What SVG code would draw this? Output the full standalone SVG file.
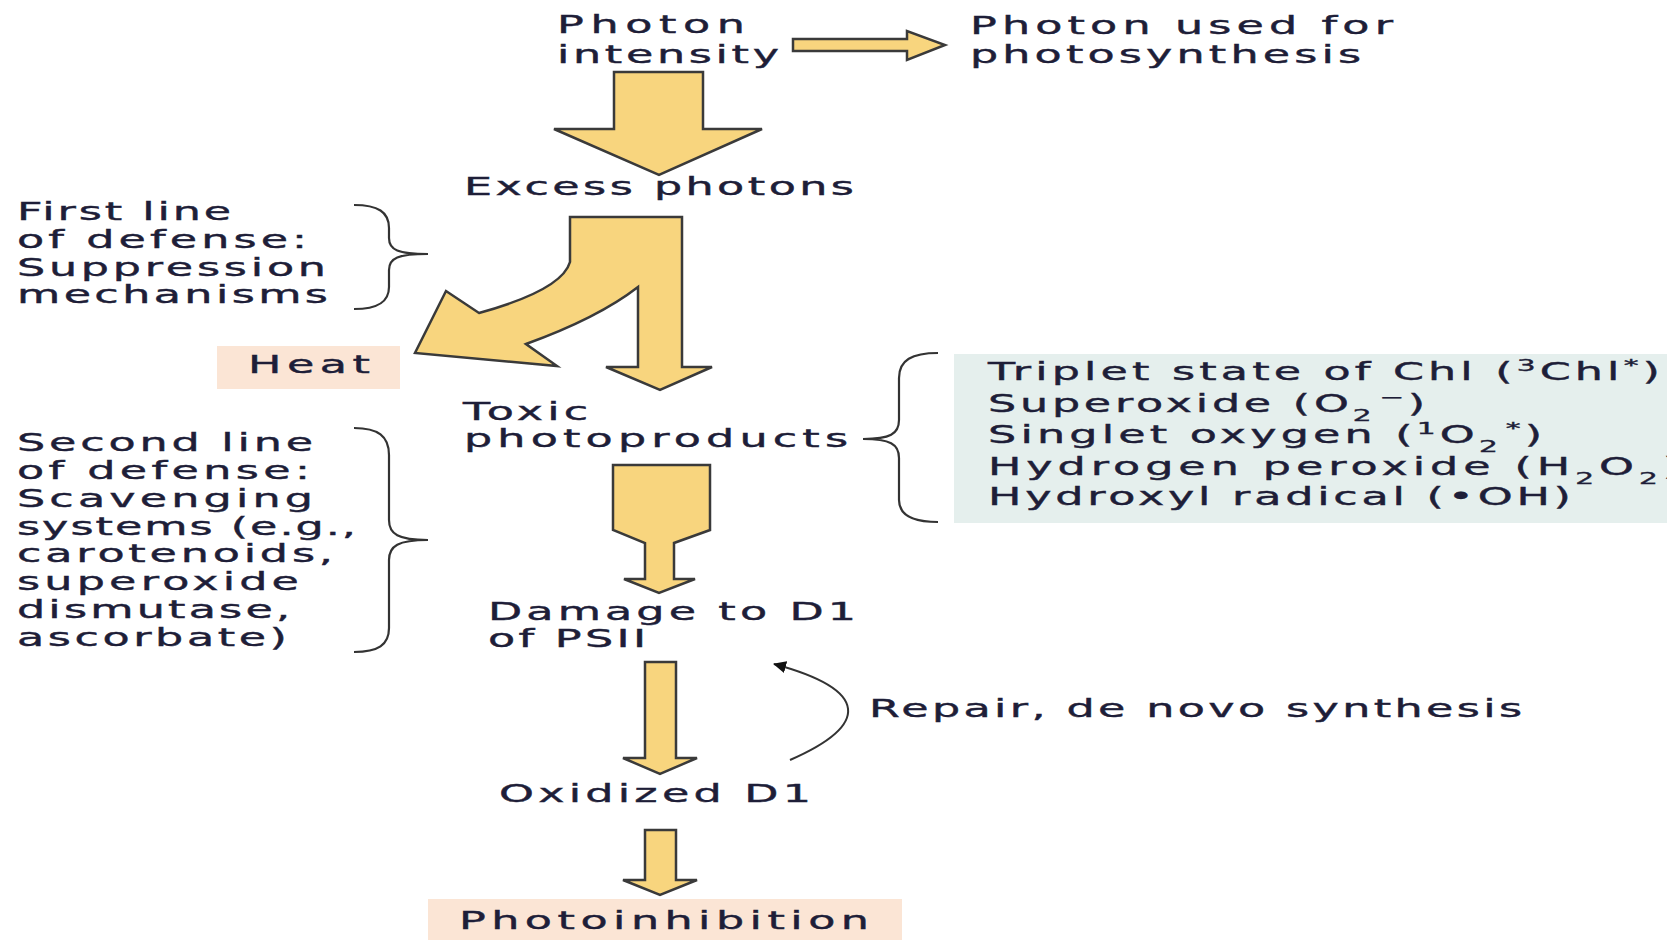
<svg xmlns="http://www.w3.org/2000/svg" width="1680" height="940" viewBox="0 0 1680 940">
<style>
.t{font-family:"DejaVu Sans","Liberation Sans",sans-serif;font-size:24px;fill:#1e1e38;stroke:#1e1e38;stroke-width:0.4;}
.arr{fill:#f8d57e;stroke:#3a3a3a;stroke-width:2.5;stroke-linejoin:miter;}
.br{fill:none;stroke:#333;stroke-width:2.2;}
.peach{fill:#fbe5d5;}
.sup{font-size:16px;baseline-shift:super;}
.sub{font-size:16px;baseline-shift:sub;}
</style>
<defs>
<clipPath id="boxclip"><rect x="954" y="354" width="713" height="169"/></clipPath>
<marker id="head" markerWidth="14" markerHeight="12" refX="12" refY="6" orient="auto" markerUnits="userSpaceOnUse">
<path d="M0,0 L13,6 L0,12 z" fill="#111"/>
</marker>
</defs>
<rect width="1680" height="940" fill="#fff"/>

<g id="connectors">
<polygon class="arr" points="793,39 907,39 907,31 945,45 907,60 907,51 793,51"/>
<polygon class="arr" points="614,72 703,72 703,129 762,129 659,175 554,129 614,129"/>
<path class="arr" d="M570,217 L682,217 L682,367 L712,367 L660,390 L606,367 L638,367 L638,287 Q598,318 526,344 L557,366 L415,353 L446,291 L479,313 Q562,290 570,262 Z"/>
<polygon class="arr" points="613,465 710,465 710,530 674,543 674,579 695,579 659,593 624,579 645,579 645,543 613,530"/>
<polygon class="arr" points="645,662 676,662 676,758 697,758 660,774 623,758 645,758"/>
<polygon class="arr" points="645,830 676,830 676,880 697,880 660,895 623,880 645,880"/>
<path d="M790,760 C870,725 870,690 774,664" fill="none" stroke="#333" stroke-width="2" marker-end="url(#head)"/>
</g>

<g id="photon-intensity">
<text class="t" transform="translate(557,33) scale(1.85,1)" textLength="101.6" lengthAdjust="spacing">Photon</text>
<text class="t" transform="translate(557,63) scale(1.85,1)" textLength="120" lengthAdjust="spacing">intensity</text>
</g>

<g id="photon-used">
<text class="t" transform="translate(970,34) scale(1.85,1)" textLength="228.6" lengthAdjust="spacing">Photon used for</text>
<text class="t" transform="translate(970,63) scale(1.85,1)" textLength="211.4" lengthAdjust="spacing">photosynthesis</text>
</g>

<g id="excess-photons">
<text class="t" transform="translate(464,195) scale(1.85,1)" textLength="210.8" lengthAdjust="spacing">Excess photons</text>
</g>

<g id="first-line">
<text class="t" transform="translate(17,220) scale(1.85,1)" textLength="115.7" lengthAdjust="spacing">First line</text>
<text class="t" transform="translate(17,248) scale(1.85,1)" textLength="156.8" lengthAdjust="spacing">of defense:</text>
<text class="t" transform="translate(17,276) scale(1.85,1)" textLength="167" lengthAdjust="spacing">Suppression</text>
<text class="t" transform="translate(17,303) scale(1.85,1)" textLength="168.1" lengthAdjust="spacing">mechanisms</text>
<path class="br" d="M354,205 C378,205 389,212 389,228 L389,238 C389,250 398,254 428,254 C398,254 389,258 389,270 L389,287 C389,302 378,309 354,309"/>
</g>

<g id="heat">
<rect class="peach" x="217" y="346" width="183" height="43"/>
<text class="t" transform="translate(248,373) scale(1.85,1)" textLength="65.9" lengthAdjust="spacing">Heat</text>
</g>

<g id="toxic">
<text class="t" transform="translate(463,420) scale(1.85,1)" textLength="67.6" lengthAdjust="spacing">Toxic</text>
<text class="t" transform="translate(464,447) scale(1.85,1)" textLength="207.6" lengthAdjust="spacing">photoproducts</text>
<path class="br" d="M938,353 C912,353 899,360 899,378 L899,420 C899,434 890,439 863,439 C890,439 899,444 899,458 L899,500 C899,515 912,522 938,522"/>
</g>

<g id="species">
<rect x="954" y="354" width="713" height="169" fill="#e5efed"/>
<g clip-path="url(#boxclip)">
<text class="t" transform="translate(988,380) scale(1.85,1)" textLength="363.2" lengthAdjust="spacing">Triplet state of Chl (<tspan class="sup">3</tspan>Chl<tspan class="sup">*</tspan>)</text>
<text class="t" transform="translate(988,412) scale(1.85,1)" textLength="236.2" lengthAdjust="spacing">Superoxide (O<tspan class="sub">2</tspan><tspan class="sup" dx="2">−</tspan>)</text>
<text class="t" transform="translate(988,443) scale(1.85,1)" textLength="299.5" lengthAdjust="spacing">Singlet oxygen (<tspan class="sup">1</tspan>O<tspan class="sub">2</tspan><tspan class="sup" dx="2">*</tspan>)</text>
<text class="t" transform="translate(988,475) scale(1.85,1)" textLength="374.1" lengthAdjust="spacing">Hydrogen peroxide (H<tspan class="sub">2</tspan>O<tspan class="sub">2</tspan>)</text>
<text class="t" transform="translate(988,505) scale(1.85,1)" textLength="315.1" lengthAdjust="spacing">Hydroxyl radical (•OH)</text>
</g>
</g>

<g id="second-line">
<text class="t" transform="translate(17,451) scale(1.85,1)" textLength="160" lengthAdjust="spacing">Second line</text>
<text class="t" transform="translate(17,479) scale(1.85,1)" textLength="158.4" lengthAdjust="spacing">of defense:</text>
<text class="t" transform="translate(17,507) scale(1.85,1)" textLength="160" lengthAdjust="spacing">Scavenging</text>
<text class="t" transform="translate(17,535) scale(1.85,1)" textLength="183.2" lengthAdjust="spacing">systems (e.g.,</text>
<text class="t" transform="translate(17,562) scale(1.85,1)" textLength="170.8" lengthAdjust="spacing">carotenoids,</text>
<text class="t" transform="translate(17,590) scale(1.85,1)" textLength="152.4" lengthAdjust="spacing">superoxide</text>
<text class="t" transform="translate(17,618) scale(1.85,1)" textLength="147.6" lengthAdjust="spacing">dismutase,</text>
<text class="t" transform="translate(17,646) scale(1.85,1)" textLength="145.9" lengthAdjust="spacing">ascorbate)</text>
<path class="br" d="M354,428 C378,428 389,436 389,455 L389,520 C389,534 398,540 428,540 C398,540 389,546 389,560 L389,628 C389,645 378,652 354,652"/>
</g>

<g id="damage">
<text class="t" transform="translate(488,620) scale(1.85,1)" textLength="198.9" lengthAdjust="spacing">Damage to D1</text>
<text class="t" transform="translate(488,647) scale(1.85,1)" textLength="85.4" lengthAdjust="spacing">of PSII</text>
</g>

<g id="repair">
<text class="t" transform="translate(869,717) scale(1.85,1)" textLength="353" lengthAdjust="spacing">Repair, de novo synthesis</text>
</g>

<g id="oxidized">
<text class="t" transform="translate(499,802) scale(1.85,1)" textLength="168.6" lengthAdjust="spacing">Oxidized D1</text>
</g>

<g id="photoinhibition">
<rect class="peach" x="428" y="899" width="474" height="41"/>
<text class="t" transform="translate(459,929) scale(1.85,1)" textLength="221.6" lengthAdjust="spacing">Photoinhibition</text>
</g>
</svg>
